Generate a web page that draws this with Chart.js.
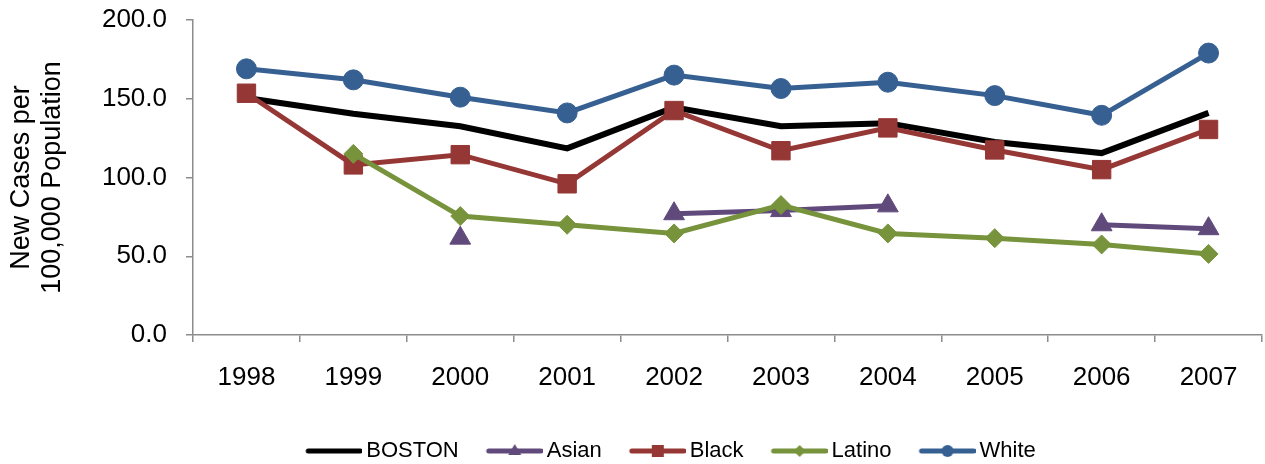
<!DOCTYPE html>
<html lang="en">
<head>
    <meta charset="UTF-8">
    <title>New Cases per 100,000 Population, Boston 1998-2007</title>
    <script src="https://cdn.jsdelivr.net/npm/chart.js"></script>
    <style>
        html, body { margin: 0; padding: 0; background: #fff; overflow: hidden; }
        #wrap { width: 1265px; height: 464px; }
        canvas { display: block; }
    </style>
</head>
<body>
    <div id="wrap"><canvas id="chart"></canvas></div>

    <script>
        const years = ['1998', '1999', '2000', '2001', '2002', '2003', '2004', '2005', '2006', '2007'];
        const boston = [150.5, 140.5, 132.5, 118.5, 144.5, 132.5, 134.5, 122.5, 115.5, 141];
        const asian = [null, null, 61.5, null, 77, 79, 82, null, 70, 67.5];
        const black = [153.5, 108, 114.5, 96, 142.5, 117, 131.5, 117.5, 105, 130.5];
        const latino = [null, 115, 75.5, 70, 64.5, 82.5, 64.5, 61.5, 57.5, 51.5];
        const white = [169, 162, 151, 141, 165, 156.5, 160.5, 152, 139.5, 179];

        const FONT = "'Liberation Sans', Arial, Helvetica, sans-serif";
        const PADL = 52;   // moves the legend so it sits where the original one does

        // little line + marker pictures for the legend
        function legendIcon(color, style) {
            const c = document.createElement('canvas');
            c.width = 91; c.height = 16;
            const g = c.getContext('2d');
            const cx = 63, cy = 8;
            g.strokeStyle = color; g.fillStyle = color;
            g.lineWidth = 5; g.lineCap = 'round';
            g.beginPath(); g.moveTo(37, cy); g.lineTo(89, cy); g.stroke();
            g.beginPath();
            if (style === 'circle') g.arc(cx, cy, 6, 0, Math.PI * 2);
            if (style === 'rect') g.rect(cx - 6, cy - 6, 12, 12);
            if (style === 'triangle') { g.moveTo(cx, cy - 7); g.lineTo(cx + 6.5, cy + 4); g.lineTo(cx - 6.5, cy + 4); g.closePath(); }
            if (style === 'rectRot') { g.moveTo(cx, cy - 6); g.lineTo(cx + 6, cy); g.lineTo(cx, cy + 6); g.lineTo(cx - 6, cy); g.closePath(); }
            if (style) g.fill();
            return c;
        }

        function series(label, data, color, style, radius, order, width) {
            return {
                label: label,
                data: data,
                borderColor: color,
                backgroundColor: color,
                borderWidth: width || 5,
                pointStyle: style || 'circle',
                pointRadius: style ? radius : 0,
                pointBorderWidth: 1,
                pointHoverRadius: style ? radius : 0,
                tension: 0,
                spanGaps: false,
                order: order,
                icon: legendIcon(color, style)
            };
        }

        const ctx = document.getElementById('chart').getContext('2d');
        const chart = new Chart(ctx, {
            type: 'line',
            data: {
                labels: years,
                datasets: [
                    series('BOSTON', boston, '#000000', null, 0, 5, 6),
                    series('Asian', asian, '#604a7b', 'triangle', 12, 4),
                    series('Black', black, '#953735', 'rect', 13, 3),
                    series('Latino', latino, '#77933c', 'rectRot', 9.5, 2),
                    series('White', white, '#376092', 'circle', 10, 1)
                ]
            },
            options: {
                responsive: true,
                maintainAspectRatio: false,
                animation: false,
                layout: { autoPadding: false, padding: { left: PADL, right: 3, top: 20, bottom: -8 } },
                plugins: {
                    tooltip: { enabled: false },
                    legend: {
                        position: 'bottom',
                        labels: {
                            usePointStyle: true,
                            pointStyleWidth: 77,
                            padding: 0,
                            color: '#000',
                            font: { family: FONT, size: 22 },
                            sort: (a, b) => a.datasetIndex - b.datasetIndex,
                            generateLabels: (chart) => {
                                const items = Chart.defaults.plugins.legend.labels.generateLabels(chart);
                                items.forEach(it => { it.pointStyle = chart.data.datasets[it.datasetIndex].icon; });
                                return items;
                            }
                        }
                    }
                },
                scales: {
                    x: {
                        offset: true,
                        grid: { offset: true, drawOnChartArea: false, drawTicks: true, tickLength: 7, color: '#8c8c8c', lineWidth: 1.5 },
                        border: { color: '#8c8c8c', width: 1.5 },
                        ticks: { color: '#000', font: { family: FONT, size: 26 }, padding: 20, maxRotation: 0 },
                        afterFit: (s) => { s.height = 105; s.paddingLeft = 0; s.paddingRight = 0; }
                    },
                    y: {
                        min: 0,
                        max: 200,
                        grid: { drawOnChartArea: false, drawTicks: true, tickLength: 7, color: '#8c8c8c', lineWidth: 1.5 },
                        border: { color: '#8c8c8c', width: 1.5 },
                        ticks: {
                            stepSize: 50,
                            color: '#000',
                            font: { family: FONT, size: 26 },
                            padding: 19,
                            callback: (v) => v.toFixed(1)
                        },
                        title: {
                            display: true,
                            text: ['New Cases per', '100,000 Population'],
                            color: '#000',
                            font: { family: FONT, size: 27, lineHeight: '31px' },
                            padding: { top: -46, bottom: 0 }
                        },
                        afterFit: (s) => { s.width = 193 - PADL; s.paddingTop = 0; s.paddingBottom = 0; }
                    }
                }
            }
        });
    </script>
</body>
</html>
